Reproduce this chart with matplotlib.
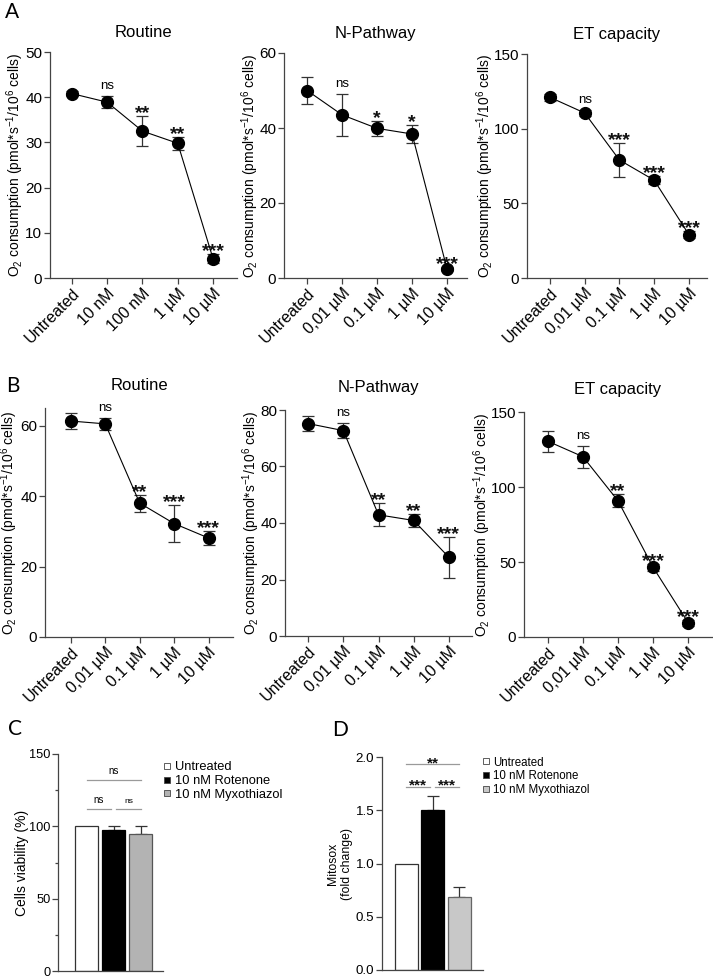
import matplotlib
matplotlib.use('Agg')
import matplotlib.pyplot as plt
from matplotlib.lines import Line2D
from matplotlib.ticker import FormatStrFormatter
import numpy as np

plt.rcParams['font.family'] = ['Liberation Sans', 'DejaVu Sans']
plt.rcParams['mathtext.fontset'] = 'custom'
plt.rcParams['mathtext.rm'] = 'Liberation Sans'
plt.rcParams['mathtext.it'] = 'Liberation Sans:italic'
plt.rcParams['mathtext.bf'] = 'Liberation Sans:bold'

W, H = 713, 977

# ---- data: panel A (line plots) ----
routine_a_labels = ['Untreated', '10 nM', '100 nM', '1 µM', '10 µM']
dose_labels = ['Untreated', '0,01 µM', '0.1 µM', '1 µM', '10 µM']

routine_a_mean = [40.8, 38.9, 32.5, 29.8, 4.3]
routine_a_err = [0.6, 1.4, 3.4, 1.5, 1.0]
routine_a_sig = ['', 'ns', '**', '**', '***']

npath_a_mean = [50.0, 43.5, 39.9, 38.4, 2.4]
npath_a_err = [3.7, 5.5, 2.0, 2.3, 0.5]
npath_a_sig = ['', 'ns', '*', '*', '***']

et_a_mean = [121.0, 110.5, 79.0, 65.5, 29.0]
et_a_err = [2.5, 2.0, 11.2, 2.5, 2.5]
et_a_sig = ['', 'ns', '***', '***', '***']

# ---- data: panel B (line plots) ----
routine_b_mean = [61.3, 60.5, 38.0, 32.2, 28.1]
routine_b_err = [2.2, 1.8, 2.4, 5.2, 1.9]
routine_b_sig = ['', 'ns', '**', '***', '***']

npath_b_mean = [75.2, 72.7, 42.9, 40.9, 27.9]
npath_b_err = [2.6, 2.6, 4.1, 2.2, 7.2]
npath_b_sig = ['', 'ns', '**', '**', '***']

et_b_mean = [130.5, 120.2, 90.8, 46.5, 9.5]
et_b_err = [7.0, 7.2, 4.4, 2.5, 2.0]
et_b_sig = ['', 'ns', '**', '***', '***']

# ---- data: panels C and D (bars) ----
treatments = ['Untreated', '10 nM Rotenone', '10 nM Myxothiazol']
viability_mean = [100.0, 97.5, 95.0]
viability_err = [0.0, 3.0, 5.5]
viability_brackets = [112, 132]
viability_sig = ['ns', 'ns', 'ns']      # 0-1, 1-2, 0-2

mitosox_mean = [1.0, 1.5, 0.69]
mitosox_err = [0.0, 0.13, 0.09]
mitosox_brackets = [1.72, 1.93]
mitosox_sig = ['***', '***', '**']

YLABEL = r'O$_2$ consumption (pmol*s$^{-1}$/10$^6$ cells)'
LINE_COL = '#444444'


def px_rect(left, top, right, bottom):
    """Axes rectangle from pixel box (origin top-left)"""
    return [left / W, 1 - bottom / H, (right - left) / W, (bottom - top) / H]


def place_ylabel(ax, text, size, x_px):
    """Put the y label centred at pixel column x_px"""
    pos = ax.get_position()
    ax.set_ylabel(text, fontsize=size, va='center')
    ax.yaxis.set_label_coords((x_px / W - pos.x0) / pos.width, 0.5)


def style_axes(ax, tick_size):
    for s in ['top', 'right']:
        ax.spines[s].set_visible(False)
    for s in ['left', 'bottom']:
        ax.spines[s].set_color(LINE_COL)
        ax.spines[s].set_linewidth(0.9)
    ax.tick_params(direction='out', length=4, width=0.9, color=LINE_COL,
                   labelsize=tick_size, pad=1.5)


def draw_line_panel(ax, title, labels, mean, err, sig, ymax, ystep, xlim,
                    title_pad, label_x):
    x = np.arange(len(mean))
    ax.errorbar(x, mean, yerr=err, fmt='-o', color='black', ms=8.5, lw=0.8,
                ecolor='#333333', elinewidth=0.9, capsize=4, capthick=0.9, zorder=3)
    for xi, m, e, s in zip(x, mean, err, sig):
        if not s:
            continue
        if s == 'ns':
            ax.annotate(s, (xi, m + e), xytext=(0, 5), textcoords='offset points',
                        ha='center', va='baseline', fontsize=9.5, annotation_clip=False)
        else:
            ax.annotate(s, (xi, m + e), xytext=(0, -1.5), textcoords='offset points',
                        ha='center', va='baseline', fontsize=14, fontweight='bold',
                        color='#111111', annotation_clip=False)
    style_axes(ax, 11.5)
    ax.tick_params(axis='y', labelsize=11)
    ax.set_xlim(*xlim)
    ax.set_ylim(0, ymax)
    ax.set_yticks(np.arange(0, ymax + 0.01, ystep))
    ax.set_xticks(x)
    ax.set_xticklabels(labels, rotation=45, ha='right', va='top', rotation_mode='anchor')
    ax.set_title(title, fontsize=12, pad=title_pad)
    place_ylabel(ax, YLABEL, 10, label_x)


def draw_bar_panel(ax, mean, err, colors, edges, brackets, sig, ymax, ystep,
                   minor, xlim, tick_size, ns_sizes):
    x = np.arange(len(mean))
    ax.bar(x, mean, width=0.87, color=colors, edgecolor=edges, linewidth=0.9, zorder=2)
    err = np.array(err)
    has = err > 0
    ax.errorbar(x[has], np.array(mean)[has], yerr=[np.zeros(has.sum()), err[has]],
                fmt='none', ecolor='#333333', elinewidth=0.9, capsize=4, capthick=0.9,
                zorder=1)
    # significance brackets: 0-1, 1-2 (lower), 0-2 (upper)
    spans = [(0, 0.9), (1.1, 2), (0, 2)]
    levels = [brackets[0], brackets[0], brackets[1]]
    for (a, b), lvl, s, fs in zip(spans, levels, sig, ns_sizes):
        ax.plot([a, b], [lvl, lvl], color='#9a9a9a', lw=0.9, clip_on=False)
        if s == 'ns':
            ax.annotate(s, ((a + b) / 2, lvl), xytext=(0, 4), textcoords='offset points',
                        ha='center', va='baseline', fontsize=fs, annotation_clip=False)
        else:
            ax.annotate(s, ((a + b) / 2, lvl), xytext=(0, -2), textcoords='offset points',
                        ha='center', va='baseline', fontsize=fs, fontweight='bold',
                        color='#111111', annotation_clip=False)
    style_axes(ax, tick_size)
    ax.set_xlim(*xlim)
    ax.set_ylim(0, ymax)
    ax.set_yticks(np.arange(0, ymax + 1e-6, ystep))
    if minor:
        ax.set_yticks(np.arange(ystep / 2, ymax, ystep), minor=True)
        ax.tick_params(axis='y', which='minor', length=2.5, width=0.9, color=LINE_COL)
    ax.set_xticks([])


def add_legend(fig, colors, x_px, y_px, fontsize):
    handles = [Line2D([], [], ls='none', marker='s', ms=5, mfc=c, mec='#444444',
                      mew=0.6, label=l) for c, l in zip(colors, treatments)]
    fig.legend(handles=handles, loc='upper left', bbox_to_anchor=(x_px / W, 1 - y_px / H),
               frameon=False, fontsize=fontsize, handlelength=0.7, handletextpad=0.3,
               labelspacing=0.15, borderpad=0, borderaxespad=0)


fig = plt.figure(figsize=(W / 100, H / 100), dpi=100)

# Panel A
ax = fig.add_axes(px_rect(50, 52, 237, 278))
draw_line_panel(ax, 'Routine', routine_a_labels, routine_a_mean, routine_a_err,
                routine_a_sig, 50, 10, (-0.62, 4.68), 11, 15)
ax = fig.add_axes(px_rect(284, 53, 467, 278))
draw_line_panel(ax, 'N-Pathway', dose_labels, npath_a_mean, npath_a_err,
                npath_a_sig, 60, 20, (-0.66, 4.57), 11, 250)
ax = fig.add_axes(px_rect(527, 54, 707, 278))
draw_line_panel(ax, 'ET capacity', dose_labels, et_a_mean, et_a_err,
                et_a_sig, 150, 50, (-0.66, 4.52), 11, 485)

# Panel B
ax = fig.add_axes(px_rect(45, 408, 233, 637))
draw_line_panel(ax, 'Routine', dose_labels, routine_b_mean, routine_b_err,
                routine_b_sig, 65, 20, (-0.75, 4.71), 13, 9)
ax.set_yticks([0, 20, 40, 60])
ax = fig.add_axes(px_rect(285, 410, 472, 636))
draw_line_panel(ax, 'N-Pathway', dose_labels, npath_b_mean, npath_b_err,
                npath_b_sig, 80, 20, (-0.66, 4.66), 13, 251)
ax = fig.add_axes(px_rect(524, 412, 712, 637))
draw_line_panel(ax, 'ET capacity', dose_labels, et_b_mean, et_b_err,
                et_b_sig, 150, 50, (-0.68, 4.68), 13, 482)

# Panel C
ax = fig.add_axes(px_rect(58, 754, 163, 971))
draw_bar_panel(ax, viability_mean, viability_err, ['white', 'black', '#b3b3b3'],
               ['#333333', 'black', '#555555'], viability_brackets, viability_sig,
               150, 50, True, (-1.06, 2.83), 9.2, [7, 6, 7])
place_ylabel(ax, 'Cells viability (%)', 10, 22)
add_legend(fig, ['white', 'black', '#b3b3b3'], 162.5, 761, 9.3)

# Panel D
ax = fig.add_axes(px_rect(382, 757, 483, 970))
draw_bar_panel(ax, mitosox_mean, mitosox_err, ['white', 'black', '#c8c8c8'],
               ['#333333', 'black', '#666666'], mitosox_brackets, mitosox_sig,
               2.0, 0.5, False, (-0.91, 2.9), 9.6, [11, 11, 11])
ax.yaxis.set_major_formatter(FormatStrFormatter('%.1f'))
place_ylabel(ax, 'Mitosox\n(fold change)', 8.8, 340)
add_legend(fig, ['white', 'black', '#c8c8c8'], 481.5, 756.5, 8.3)

# panel letters
for letter, xp, yp in [('A', 12, 12), ('B', 13, 386), ('C', 15, 729), ('D', 340, 730)]:
    fig.text(xp / W, 1 - yp / H, letter, fontsize=15, family='Lato',
             ha='center', va='center')

fig.savefig('out.png', dpi=100)
